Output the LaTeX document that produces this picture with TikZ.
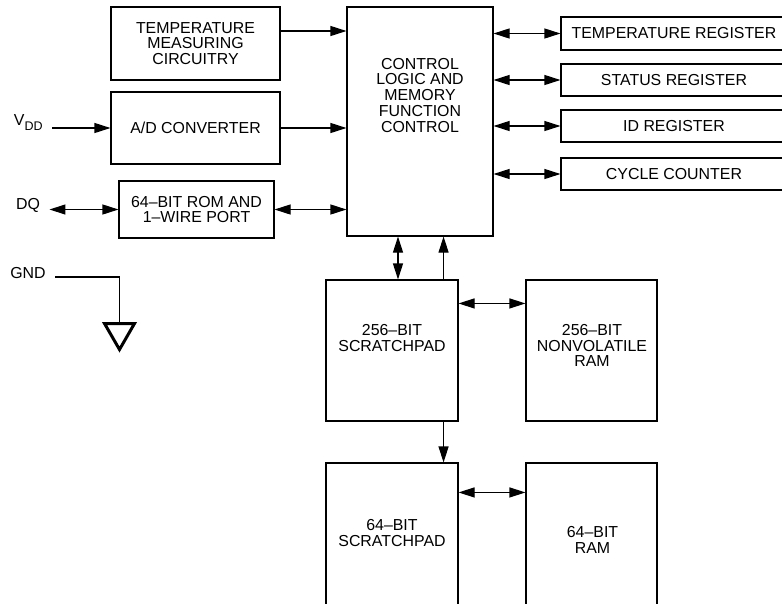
\documentclass[tikz,border=0pt]{standalone}
\usepackage{fontspec}
\setmainfont{Liberation Sans}
\usetikzlibrary{arrows.meta}

\begin{document}
\begin{tikzpicture}[
  x=1pt, y=-1pt,
  font=\fontsize{15.9}{15.8}\selectfont,
  line width=1.1pt,
  box/.style={rectangle, draw, inner sep=0pt, align=center},
  reg/.style={box, minimum width=226pt, minimum height=32pt},
  mem/.style={box, minimum width=132pt, minimum height=141pt},
  txt/.style={inner sep=0pt, align=center},
  pinlbl/.style={inner xsep=9pt, inner ysep=0pt},
  arr/.style={-{Triangle[length=16pt, width=10pt]}},
  darr/.style={{Triangle[length=16pt, width=10pt]}-{Triangle[length=16pt, width=10pt]}},
  gndsym/.style={line width=3pt, line join=miter},
  ]
  \useasboundingbox (0,0) rectangle (782,603);
  \clip (0,0) rectangle (782,603);

  %% Nodes: input blocks, control block, registers, memories
  \node[box, minimum width=169pt, minimum height=73pt] (meas) at (195.5, 43.5)
        {TEMPERATURE\\MEASURING\\CIRCUITRY};
  \node[box, minimum width=169pt, minimum height=72pt] (adc)  at (195.5,128) {A/D CONVERTER};
  \node[box, minimum width=155pt, minimum height=57pt] (rom)  at (196.5,209.5)
        {64–BIT ROM AND\\1–WIRE PORT};
  \node[box, minimum width=146pt, minimum height=229pt] (ctrl) at (420,121.5) {};
  \node[txt] (ctrltxt) at (420,95.3)
        {CONTROL\\LOGIC AND\\MEMORY\\FUNCTION\\CONTROL};

  \node[reg, minimum height=33pt] (treg) at (674, 33.5) {TEMPERATURE REGISTER};
  \node[reg] (sreg)  at (674, 80)  {STATUS REGISTER};
  \node[reg] (idreg) at (674,126)  {ID REGISTER};
  \node[reg] (cyc)   at (674,174)  {CYCLE COUNTER};

  \node[mem] (sp256) at (392,350.5) {};
  \node[txt] (sp256txt) at (392,338) {256–BIT\\SCRATCHPAD};
  \node[mem, minimum width=131pt] (nv256) at (591.5,350.5) {};
  \node[txt] (nv256txt) at (592,345.5) {256–BIT\\NONVOLATILE\\RAM};
  \node[mem, minimum height=160pt] (sp64) at (392,543) {};
  \node[txt] (sp64txt) at (392,533) {64–BIT\\SCRATCHPAD};
  \node[mem, minimum width=131pt, minimum height=160pt] (ram64) at (591.5,543) {};
  \node[txt] (ram64txt) at (592.5,540) {64–BIT\\RAM};

  %% Pins
  \node[pinlbl] (vdd) at (28.3,122.9)
        {V\raisebox{-5pt}{\fontsize{12.5}{12.5}\selectfont DD}};
  \node[pinlbl] (dq)  at (28,205) {DQ};
  \node[pinlbl] (gnd) at (28,272.8) {GND};
  \coordinate (gndpt) at (119.5,323.5);

  %% Input side
  \draw[arr]  (vdd.east |- adc.west) -- (adc.west);
  \draw[darr] (dq.east |- rom.west) -- (rom.west);
  \draw[arr]  (meas.east |- 0,31) -- (ctrl.west |- 0,31);
  \draw[arr]  (adc.east) -- (adc.east -| ctrl.west);
  \draw[darr] (rom.east) -- (rom.east -| ctrl.west);

  % ground
  \draw (gnd.east |- 0,277) -| (gndpt);
  \draw[gndsym] ([xshift=-15pt]gndpt) -- ([xshift=15pt]gndpt)
                -- ([yshift=-26pt]gndpt) -- cycle;

  %% Registers
  \draw[darr] (ctrl.east |- treg.west)  -- (treg.west);
  \draw[darr] (ctrl.east |- sreg.west)  -- (sreg.west);
  \draw[darr] (ctrl.east |- idreg.west) -- (idreg.west);
  \draw[darr] (ctrl.east |- cyc.west)   -- (cyc.west);

  %% Memory paths
  \draw[darr] ([xshift=6pt]sp256.north) -- ([xshift=6pt]sp256.north |- ctrl.south);
  \draw[arr]  ([xshift=-15pt]sp256.north east) -- ([xshift=-15pt]sp256.north east |- ctrl.south);
  \draw[arr]  ([xshift=-15pt]sp256.south east) -- ([xshift=-15pt]sp256.south east |- sp64.north);
  \draw[darr] ([yshift=-24pt]sp256.north east) -- ([yshift=-24pt]sp256.north east -| nv256.west);
  \draw[darr] ([yshift=-30pt]sp64.north east) -- ([yshift=-30pt]sp64.north east -| ram64.west);
\end{tikzpicture}
\end{document}
